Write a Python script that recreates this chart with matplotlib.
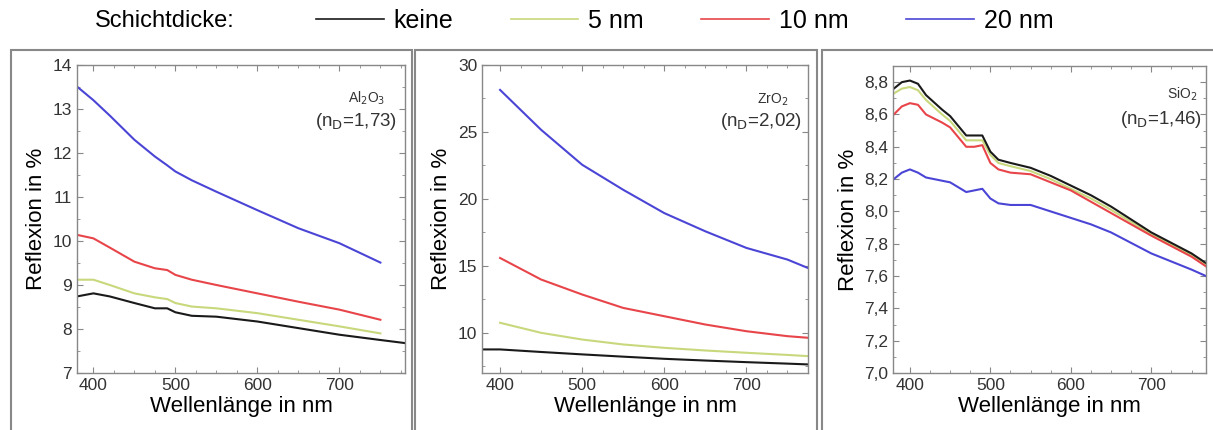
import matplotlib.pyplot as plt
from matplotlib.ticker import AutoMinorLocator, FuncFormatter
from matplotlib.lines import Line2D
from matplotlib.patches import Rectangle

plt.rcParams['font.family'] = ['Liberation Sans', 'DejaVu Sans']

labels = ['keine', '5 nm', '10 nm', '20 nm']
colors = ['#1a1a1a', '#c8d87c', '#e8454a', '#4b45d6']

# Al2O3
wl_al = [380, 400, 420, 450, 475, 490, 500, 520, 550, 600, 650, 700, 750]
al_keine = [8.74, 8.81, 8.74, 8.59, 8.47, 8.47, 8.38, 8.30, 8.28, 8.17, 8.02, 7.87, 7.75]
al_5 = [9.12, 9.12, 9.0, 8.81, 8.72, 8.68, 8.59, 8.51, 8.47, 8.36, 8.21, 8.06, 7.90]
al_10 = [10.14, 10.06, 9.85, 9.53, 9.38, 9.34, 9.23, 9.12, 9.0, 8.81, 8.62, 8.44, 8.21]
al_20 = [13.51, 13.2, 12.85, 12.3, 11.92, 11.72, 11.58, 11.38, 11.12, 10.7, 10.29, 9.95, 9.51]
wl_al_keine_end = [780]
al_keine_end = [7.68]

# ZrO2
wl_zr = [400, 450, 500, 550, 600, 650, 700, 750, 775]
zr_keine = [8.76, 8.57, 8.39, 8.22, 8.06, 7.93, 7.81, 7.70, 7.64]
zr_5 = [10.75, 10.0, 9.5, 9.13, 8.88, 8.68, 8.51, 8.35, 8.26]
zr_10 = [15.59, 13.98, 12.86, 11.86, 11.24, 10.62, 10.12, 9.75, 9.63]
zr_20 = [28.14, 25.16, 22.55, 20.68, 18.94, 17.58, 16.34, 15.47, 14.84]
wl_zr_keine_start = [380]
zr_keine_start = [8.76]

# SiO2
wl_si = [380, 390, 400, 410, 420, 440, 450, 470, 480, 490, 500, 510, 525, 550, 575, 600,
         625, 650, 700, 750, 768]
si_keine = [8.76, 8.80, 8.81, 8.79, 8.72, 8.63, 8.59, 8.47, 8.47, 8.47, 8.37, 8.32, 8.30,
            8.27, 8.22, 8.16, 8.10, 8.03, 7.87, 7.74, 7.68]
si_5 = [8.73, 8.76, 8.77, 8.75, 8.69, 8.60, 8.56, 8.44, 8.44, 8.44, 8.35, 8.30, 8.28,
        8.25, 8.20, 8.14, 8.08, 8.01, 7.86, 7.73, 7.67]
si_10 = [8.60, 8.65, 8.67, 8.66, 8.60, 8.55, 8.52, 8.40, 8.40, 8.41, 8.30, 8.26, 8.24,
         8.23, 8.18, 8.13, 8.06, 7.99, 7.85, 7.72, 7.66]
si_20 = [8.20, 8.24, 8.26, 8.24, 8.21, 8.19, 8.18, 8.12, 8.13, 8.14, 8.08, 8.05, 8.04,
         8.04, 8.00, 7.96, 7.92, 7.87, 7.74, 7.64, 7.60]

W, H = 1213, 430
fig = plt.figure(figsize=(W / 100, H / 100), dpi=100)


def px_axes(x0, x1, y0, y1):
    return fig.add_axes([x0 / W, 1 - y1 / H, (x1 - x0) / W, (y1 - y0) / H])


def comma(v, nd):
    return ('%.' + str(nd) + 'f') % v if nd == 0 else (('%.' + str(nd) + 'f') % v).replace('.', ',')


def style(ax, xlim, ylim, yticks, nd):
    ax.set_xlim(xlim)
    ax.set_ylim(ylim)
    ax.set_xticks([400, 500, 600, 700])
    ax.set_yticks(yticks)
    ax.yaxis.set_major_formatter(FuncFormatter(lambda v, p: comma(v, nd)))
    ax.xaxis.set_minor_locator(AutoMinorLocator(4))
    ax.yaxis.set_minor_locator(AutoMinorLocator(2))
    ax.tick_params(which='both', direction='in', top=True, right=True, colors='#888888',
                   labelcolor='#333333', labelsize=12.5)
    ax.tick_params(which='major', length=4)
    ax.tick_params(which='minor', length=2)
    for s in ax.spines.values():
        s.set_color('#888888')
        s.set_linewidth(1.0)
    ax.set_xlabel('Wellenlänge in nm', fontsize=16, labelpad=2)
    ax.set_ylabel('Reflexion in %', fontsize=16, labelpad=4)


lw = 1.5

ax1 = px_axes(77, 405, 65, 373)
ax1.plot(wl_al + wl_al_keine_end, al_keine + al_keine_end, color=colors[0], lw=lw)
ax1.plot(wl_al, al_5, color=colors[1], lw=lw)
ax1.plot(wl_al, al_10, color=colors[2], lw=lw)
ax1.plot(wl_al, al_20, color=colors[3], lw=lw)
style(ax1, (380, 780), (7, 14), [7, 8, 9, 10, 11, 12, 13, 14], 0)

ax2 = px_axes(482, 808, 65, 373)
ax2.plot(wl_zr_keine_start + wl_zr, zr_keine_start + zr_keine, color=colors[0], lw=lw)
ax2.plot(wl_zr, zr_5, color=colors[1], lw=lw)
ax2.plot(wl_zr, zr_10, color=colors[2], lw=lw)
ax2.plot(wl_zr, zr_20, color=colors[3], lw=lw)
style(ax2, (378, 775), (7, 30), [10, 15, 20, 25, 30], 0)

ax3 = px_axes(893, 1206, 66, 373)
ax3.plot(wl_si, si_5, color=colors[1], lw=lw)
ax3.plot(wl_si, si_keine, color=colors[0], lw=lw)
ax3.plot(wl_si, si_10, color=colors[2], lw=lw)
ax3.plot(wl_si, si_20, color=colors[3], lw=lw)
style(ax3, (379, 768), (7.0, 8.9), [7.0, 7.2, 7.4, 7.6, 7.8, 8.0, 8.2, 8.4, 8.6, 8.8], 1)

# material annotations
notes = [(385, 98, 'Al$_2$O$_3$', 397, 122, '(n$_\\mathrm{D}$=1,73)'),
         (788, 100, 'ZrO$_2$', 802, 122, '(n$_\\mathrm{D}$=2,02)'),
         (1197, 94, 'SiO$_2$', 1202, 120, '(n$_\\mathrm{D}$=1,46)')]
for x1, y1, t1, x2, y2, t2 in notes:
    fig.text(x1 / W, 1 - y1 / H, t1, ha='right', va='center', fontsize=10, color='#333333')
    fig.text(x2 / W, 1 - y2 / H, t2, ha='right', va='center', fontsize=13.5, color='#333333')

# panel frames
for x0, x1 in [(11, 412), (415, 817), (822, 1225)]:
    fig.patches.append(Rectangle((x0 / W, -0.05), (x1 - x0) / W, 1 - 50 / H + 0.05,
                                 transform=fig.transFigure, fill=False,
                                 edgecolor='#888888', lw=1.5))

# legend
fig.text(95 / W, 1 - 21 / H, 'Schichtdicke:', ha='left', va='center', fontsize=17)
handles = [Line2D([], [], color=c, lw=1.2) for c in colors]
fig.legend(handles, labels, loc='center left', bbox_to_anchor=(316 / W, 1 - 21 / H),
           ncol=4, frameon=False, fontsize=18, handlelength=2.7, handletextpad=0.4,
           columnspacing=2.3, borderpad=0, borderaxespad=0)

plt.savefig('out.png', dpi=100)
